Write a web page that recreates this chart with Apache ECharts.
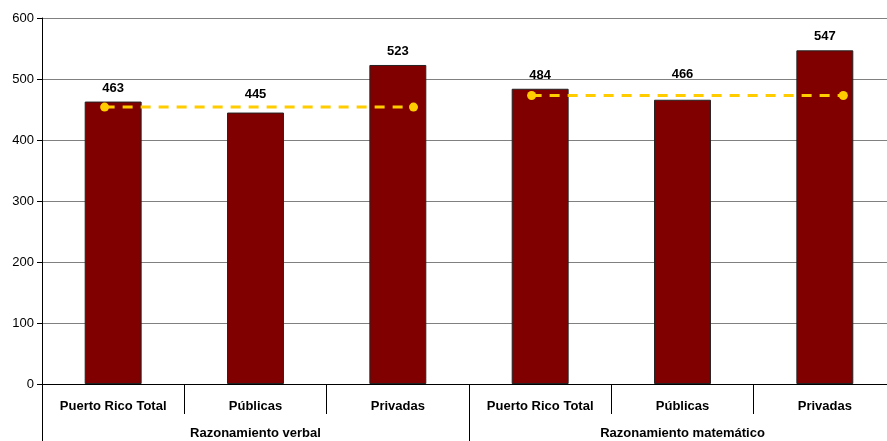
<!DOCTYPE html>
<html><head><meta charset="utf-8">
<script src="https://cdn.jsdelivr.net/npm/echarts@6/dist/echarts.min.js"></script>
<style>html,body{margin:0;padding:0;background:#fff;overflow:hidden}#c{width:900px;height:441px}</style>
</head><body><div id="c"></div>
<script>
const categories = ['Puerto Rico Total','Públicas','Privadas','Puerto Rico Total','Públicas','Privadas'];
const groups = ['Razonamiento verbal','Razonamiento matemático'];
const scores = [463, 445, 523, 484, 466, 547];
const verbalAvg = [[0.44, 454], [2.61, 454]];
const mathAvg = [[3.44, 473], [5.63, 473]];
const yTicks = [0, 100, 200, 300, 400, 500, 600];

const labelDistance = [7, 12, 7, 7, 19, 7];
const barData = scores.map((v, i) => ({ value: v, label: { distance: labelDistance[i] } }));

const font = 'Liberation Sans, Arial, sans-serif';
const chart = echarts.init(document.getElementById('c'));
chart.setOption({
  animation: false,
  grid: { left: 42, width: 854, top: 18, bottom: 57, containLabel: false },
  xAxis: [
    { type: 'category', data: categories, position: 'bottom',
      axisLine: { lineStyle: { color: '#000', width: 1 } },
      axisTick: { show: true, interval: 0, length: 30, lineStyle: { color: '#000' } },
      axisLabel: { interval: 0, margin: 16, color: '#000', fontFamily: font, fontSize: 13, fontWeight: 'bold' } },
    { type: 'category', data: groups, position: 'bottom',
      axisLine: { show: false },
      axisTick: { show: true, interval: 0, length: 57, lineStyle: { color: '#000' } },
      axisLabel: { interval: 0, margin: 43, color: '#000', fontFamily: font, fontSize: 13, fontWeight: 'bold' } },
    { type: 'value', min: 0, max: 6, show: false, position: 'bottom' }
  ],
  yAxis: {
    type: 'value', min: yTicks[0], max: yTicks[yTicks.length - 1], interval: 100,
    axisLine: { show: true, lineStyle: { color: '#000' } },
    axisTick: { show: true, length: 5, lineStyle: { color: '#000' } },
    axisLabel: { color: '#000', fontFamily: font, fontSize: 13, margin: 8 },
    splitLine: { show: true, lineStyle: { color: '#808080', width: 1 } }
  },
  series: [
    { type: 'bar', xAxisIndex: 0, data: barData, barWidth: '40%',
      itemStyle: { color: '#800000', borderColor: '#222', borderWidth: 1 },
      label: { show: true, position: 'top', color: '#000', fontFamily: font, fontSize: 13, fontWeight: 'bold' } },
    { type: 'line', xAxisIndex: 2, data: verbalAvg, symbol: 'circle', symbolSize: 9,
      lineStyle: { color: '#FFCC00', width: 3, type: [10, 8] }, itemStyle: { color: '#FFCC00' } },
    { type: 'line', xAxisIndex: 2, data: mathAvg, symbol: 'circle', symbolSize: 9,
      lineStyle: { color: '#FFCC00', width: 3, type: [10, 8] }, itemStyle: { color: '#FFCC00' } }
  ]
});
</script></body></html>
